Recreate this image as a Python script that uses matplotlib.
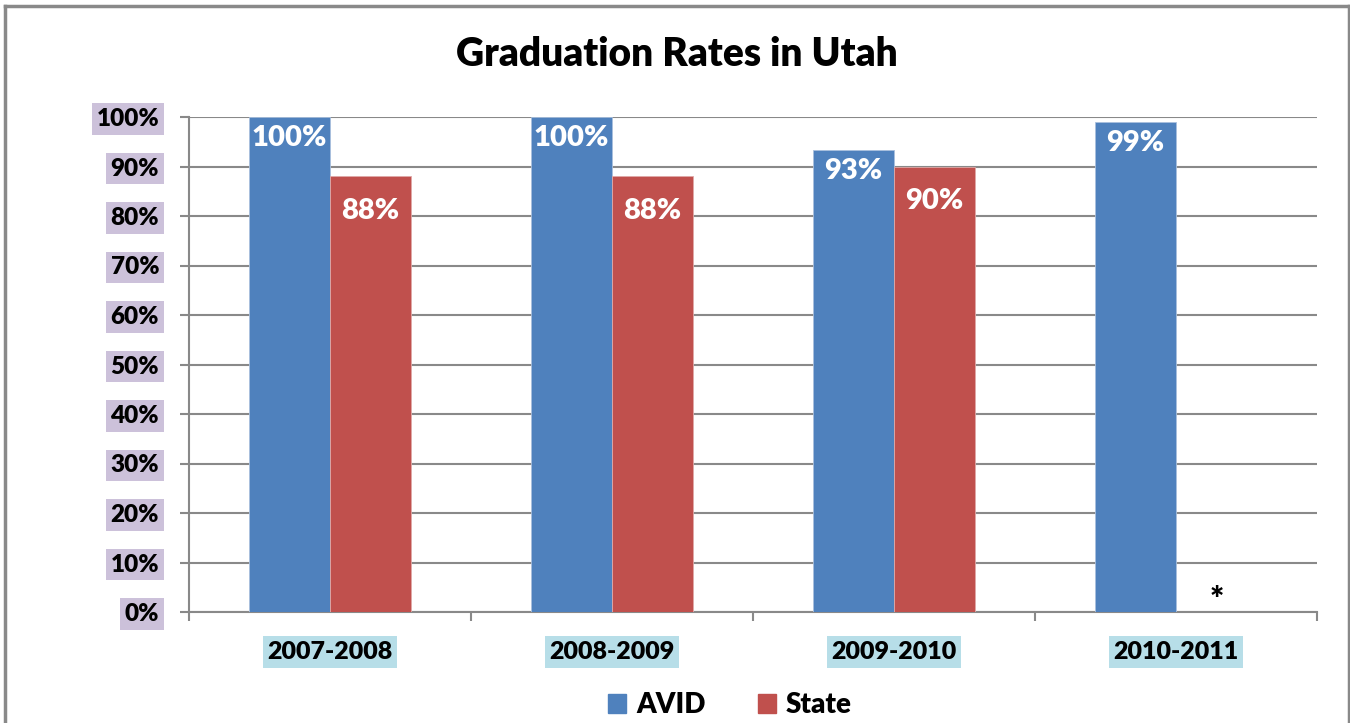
import numpy as np
import matplotlib.pyplot as plt
from matplotlib.patches import Rectangle
from matplotlib.lines import Line2D

plt.rcParams['font.family'] = ['Lato', 'DejaVu Sans']

years = ["2007-2008", "2008-2009", "2009-2010", "2010-2011"]
avid = [100, 100, 93.3, 99]
state = [88, 88, 90, np.nan]
avid_labels = ["100%", "100%", "93%", "99%"]
state_labels = ["88%", "88%", "90%", "*"]
yticks = [0, 10, 20, 30, 40, 50, 60, 70, 80, 90, 100]

blue = "#4F81BD"
red = "#C0504D"
grid = "#898989"
wt = "heavy"

fig = plt.figure(figsize=(13.5, 7.23), dpi=100)
ax = fig.add_axes([189/1350, 111/723, (1317-189)/1350, (612-117)/723])

x = np.arange(len(years))
w = 0.286
ax.bar(x - w/2, avid, w, color=blue, edgecolor="#A9C0DE", linewidth=0.6, zorder=3)
ax.bar(x + w/2, np.nan_to_num(state), w, color=red, edgecolor="#E0A9A8", linewidth=0.6, zorder=3)

for i in range(len(years)):
    ax.annotate(avid_labels[i], (x[i] - w/2, avid[i]), xytext=(0, -15), textcoords="offset points",
                ha="center", va="center", color="white", fontsize=21, fontweight=wt, zorder=4)
    if np.isnan(state[i]):
        ax.annotate(state_labels[i], (x[i] + w/2, 0), xytext=(0, 8), textcoords="offset points",
                    ha="center", va="center", color="black", fontsize=24, fontweight=wt, zorder=4)
    else:
        ax.annotate(state_labels[i], (x[i] + w/2, state[i]), xytext=(0, -25), textcoords="offset points",
                    ha="center", va="center", color="white", fontsize=21, fontweight=wt, zorder=4)

ax.set_xlim(-0.5, len(years) - 0.5)
ax.set_ylim(0, 100)
ax.set_yticks(yticks)
ax.set_yticklabels([f"{t}%" for t in yticks])
ax.yaxis.grid(True, color=grid, linewidth=1.5, zorder=0)
ax.set_axisbelow(True)

ax.set_xticks(x)
ax.set_xticklabels(years)
ax.tick_params(axis="x", length=0, pad=21)
ax.tick_params(axis="y", length=6.5, width=1.5, color=grid, pad=15)
# category boundary ticks
ax.set_xticks(np.arange(-0.5, len(years)), minor=True)
ax.tick_params(axis="x", which="minor", length=6.5, width=1.5, color=grid)

for lab in ax.get_yticklabels():
    lab.set_fontsize(17.5)
    lab.set_fontweight(wt)
    lab.set_bbox(dict(facecolor="#CCC1DA", edgecolor="none", pad=3.5))
for lab in ax.get_xticklabels():
    lab.set_fontsize(18)
    lab.set_fontweight(wt)
    lab.set_bbox(dict(facecolor="#B7DEE8", edgecolor="none", pad=3.5))

for s in ["top", "right"]:
    ax.spines[s].set_visible(False)
for s in ["left", "bottom"]:
    ax.spines[s].set_color(grid)
    ax.spines[s].set_linewidth(1.5)

fig.text(677/1350, 1 - 55/723, "Graduation Rates in Utah", ha="center", va="center",
         fontsize=28, fontweight=wt)

handles = [Rectangle((0, 0), 1, 1, color=blue), Rectangle((0, 0), 1, 1, color=red)]
fig.legend(handles, ["AVID", "State"], loc="center", bbox_to_anchor=(730/1350, 1 - 705/723),
           ncol=2, frameon=False, prop={"size": 20, "weight": wt},
           handlelength=0.65, handleheight=0.65, handletextpad=0.35, columnspacing=1.9)

# outer chart border
fig.add_artist(Line2D([5/1350, 5/1350], [0, 1 - 6/723], color=grid, linewidth=2.5))
fig.add_artist(Line2D([5/1350, 1349/1350], [1 - 6/723, 1 - 6/723], color=grid, linewidth=2.5))
fig.add_artist(Line2D([1349/1350, 1349/1350], [0, 1 - 6/723], color=grid, linewidth=2.5))

fig.savefig("out.png", dpi=100)
